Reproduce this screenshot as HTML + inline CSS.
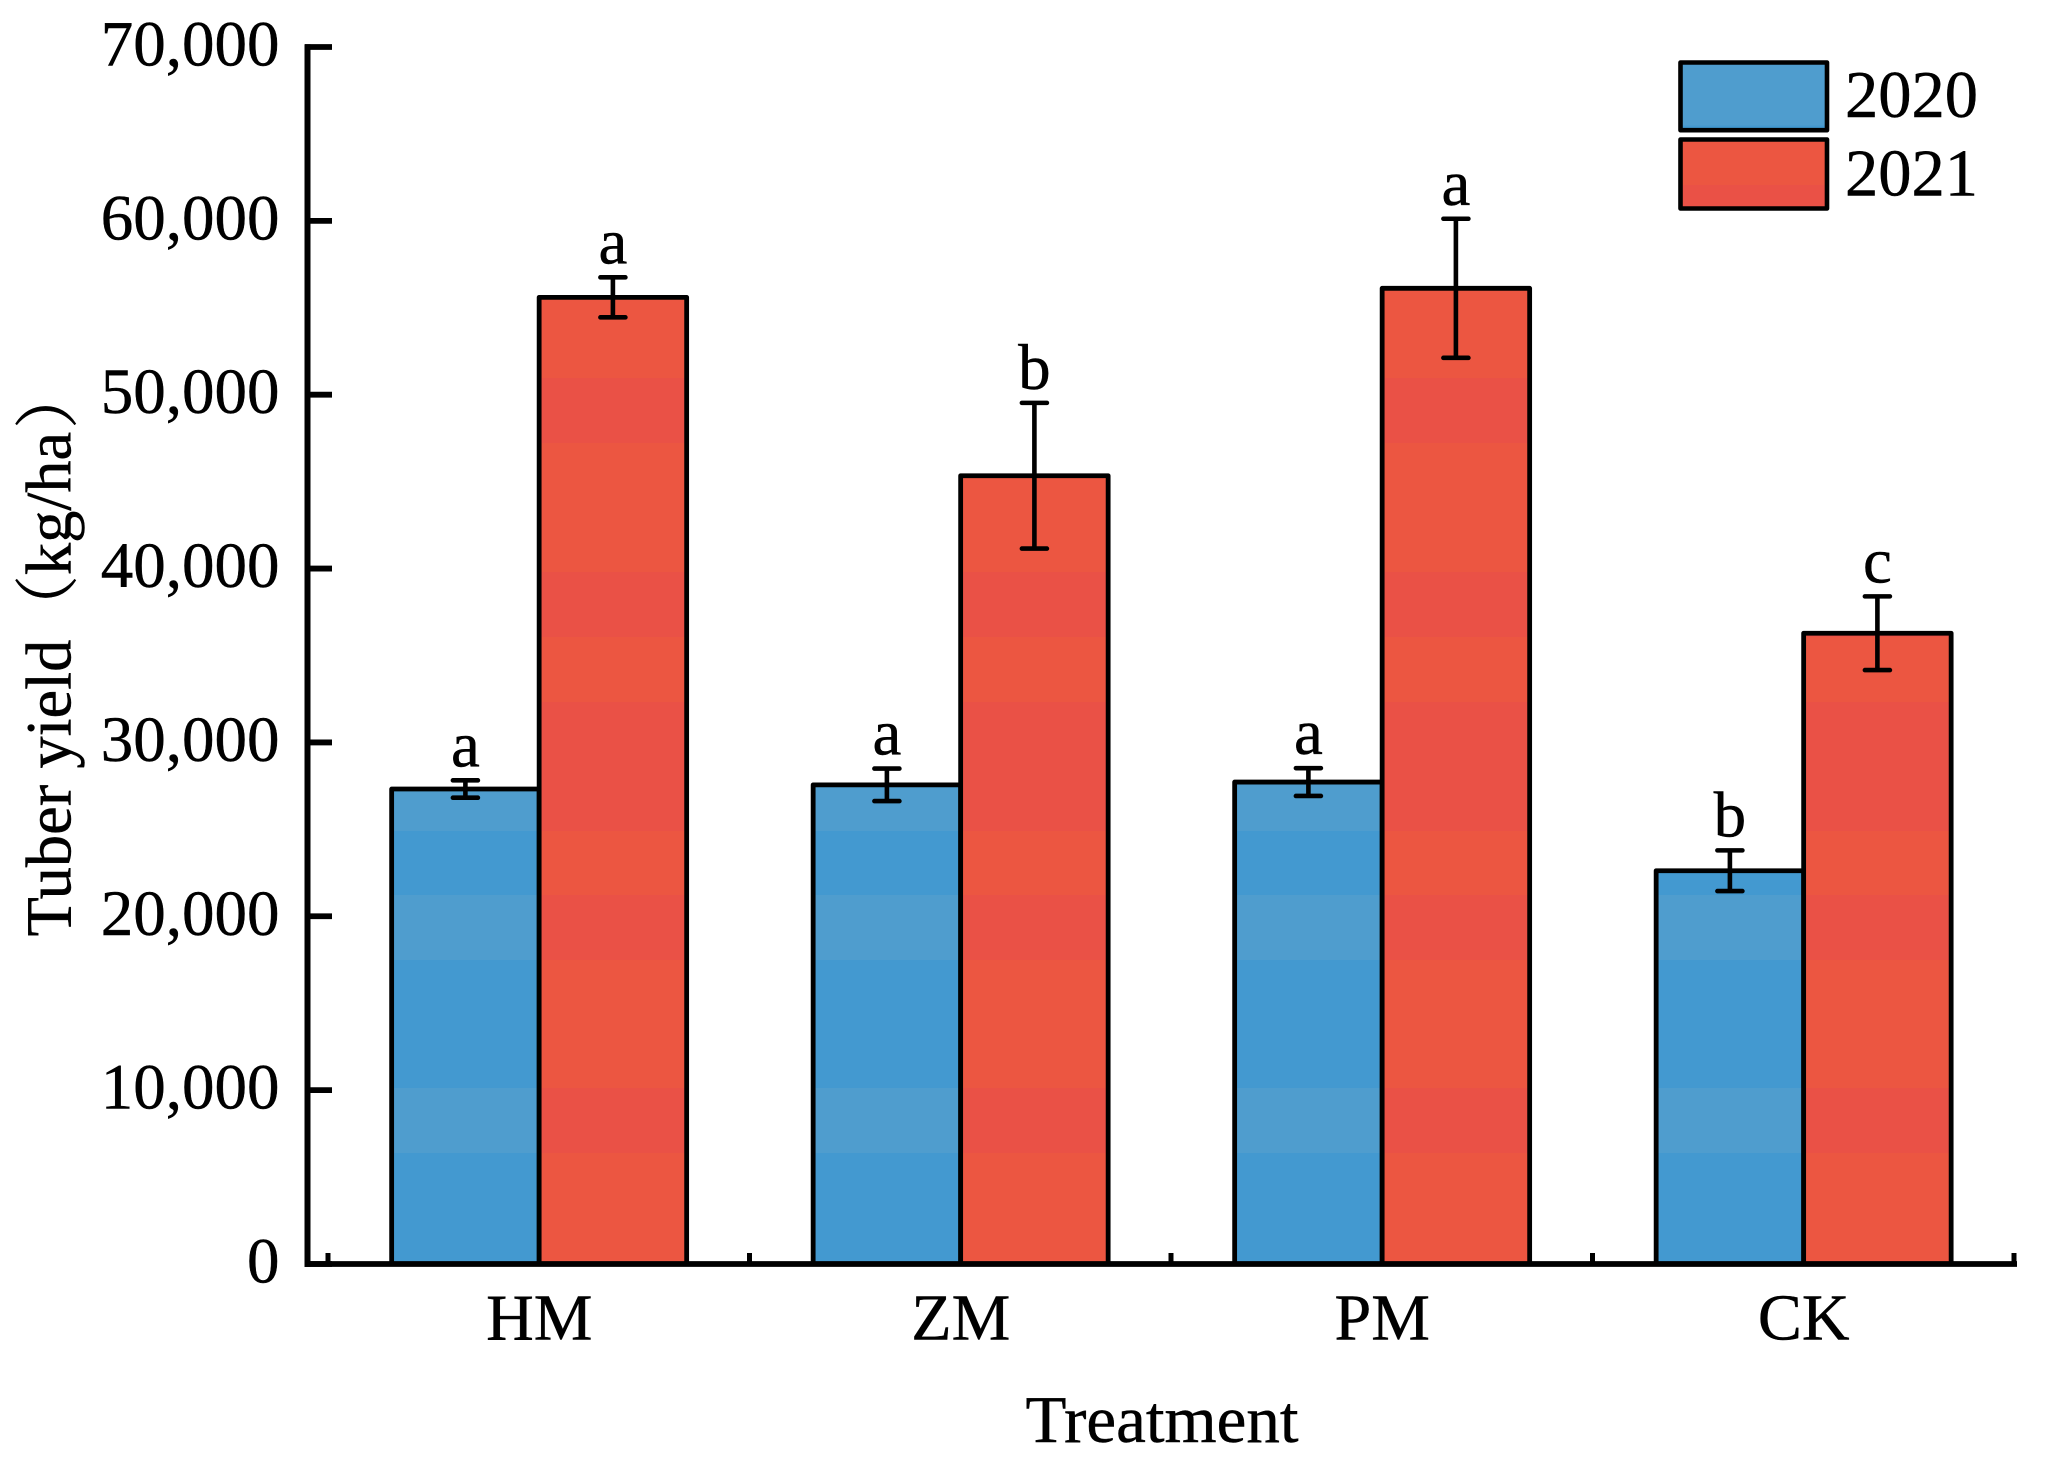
<!DOCTYPE html>
<html lang="en">
<head>
<meta charset="utf-8">
<title>Tuber yield by treatment</title>
<style>
html,body{margin:0;padding:0;background:#fff;}
svg{display:block;}
text{font-family:"Liberation Serif","Noto Serif CJK SC",serif;fill:#000;stroke:#000;stroke-width:0.45px;}
</style>
</head>
<body>
<svg id="chart" xmlns="http://www.w3.org/2000/svg" width="2050" height="1465" viewBox="0 0 2050 1465">
  <defs>
    <linearGradient id="blue-fill" gradientUnits="userSpaceOnUse" x1="0" y1="0" x2="0" y2="1465">
      <stop offset="0" stop-color="#4399d0"/>
      <stop offset="0.4792" stop-color="#4399d0"/><stop offset="0.4792" stop-color="#4f9dce"/>
      <stop offset="0.5672" stop-color="#4f9dce"/><stop offset="0.5672" stop-color="#4399d0"/>
      <stop offset="0.6109" stop-color="#4399d0"/><stop offset="0.6109" stop-color="#4f9dce"/>
      <stop offset="0.6553" stop-color="#4f9dce"/><stop offset="0.6553" stop-color="#4399d0"/>
      <stop offset="0.7427" stop-color="#4399d0"/><stop offset="0.7427" stop-color="#4f9dce"/>
      <stop offset="0.7870" stop-color="#4f9dce"/><stop offset="0.7870" stop-color="#4399d0"/>
      <stop offset="1" stop-color="#4399d0"/>
    </linearGradient>
    <linearGradient id="red-fill" gradientUnits="userSpaceOnUse" x1="0" y1="0" x2="0" y2="1465">
      <stop offset="0" stop-color="#ec5641"/>
      <stop offset="0.2580" stop-color="#ec5641"/><stop offset="0.2580" stop-color="#ea5146"/>
      <stop offset="0.3024" stop-color="#ea5146"/><stop offset="0.3024" stop-color="#ec5641"/>
      <stop offset="0.3904" stop-color="#ec5641"/><stop offset="0.3904" stop-color="#ea5146"/>
      <stop offset="0.4348" stop-color="#ea5146"/><stop offset="0.4348" stop-color="#ec5641"/>
      <stop offset="0.4792" stop-color="#ec5641"/><stop offset="0.4792" stop-color="#ea5146"/>
      <stop offset="0.5672" stop-color="#ea5146"/><stop offset="0.5672" stop-color="#ec5641"/>
      <stop offset="0.6109" stop-color="#ec5641"/><stop offset="0.6109" stop-color="#ea5146"/>
      <stop offset="0.6553" stop-color="#ea5146"/><stop offset="0.6553" stop-color="#ec5641"/>
      <stop offset="0.7427" stop-color="#ec5641"/><stop offset="0.7427" stop-color="#ea5146"/>
      <stop offset="0.7870" stop-color="#ea5146"/><stop offset="0.7870" stop-color="#ec5641"/>
      <stop offset="1" stop-color="#ec5641"/>
    </linearGradient>
    <linearGradient id="legend-blue-fill" gradientUnits="userSpaceOnUse" x1="0" y1="62" x2="0" y2="131">
      <stop offset="0" stop-color="#4f9dce"/><stop offset="0.92" stop-color="#4f9dce"/><stop offset="0.92" stop-color="#4399d0"/><stop offset="1" stop-color="#4399d0"/>
    </linearGradient>
    <linearGradient id="legend-red-fill" gradientUnits="userSpaceOnUse" x1="0" y1="139" x2="0" y2="209">
      <stop offset="0" stop-color="#ec5641"/><stop offset="0.66" stop-color="#ec5641"/><stop offset="0.66" stop-color="#ea5146"/><stop offset="1" stop-color="#ea5146"/>
    </linearGradient>
  </defs>

  <g id="bars"></g>
  <g id="errors"></g>
  <g id="letters"></g>
  <g id="axes"></g>

  <text x="1162" y="1442" font-size="67" text-anchor="middle">Treatment</text>
  <text transform="translate(70.5 936.5) rotate(-90)" font-size="64.5">Tuber yield（kg/ha<tspan dx="3">）</tspan></text>

  <g>
    <rect x="1680.5" y="62.5" width="146.5" height="67.7" fill="url(#legend-blue-fill)" stroke="#000" stroke-width="4.6" stroke-linejoin="round"/>
    <text x="1845" y="117" font-size="66.5">2020</text>
    <rect x="1680.5" y="139.5" width="146.5" height="69" fill="url(#legend-red-fill)" stroke="#000" stroke-width="4.6" stroke-linejoin="round"/>
    <text x="1845" y="195.5" font-size="66.5">2021</text>
  </g>
</svg>

<script>
const categories = ['HM', 'ZM', 'PM', 'CK'];
const yield2020 = [27320, 27560, 27720, 22620];
const yield2021 = [55600, 45340, 56120, 36280];
const error2020 = [500, 935, 800, 1170];
const error2021 = [1150, 4190, 4000, 2120];
const letters2020 = ['a', 'a', 'a', 'b'];
const letters2021 = ['a', 'b', 'a', 'c'];
const yTickValues = [0, 10000, 20000, 30000, 40000, 50000, 60000, 70000];
const yTickLabels = ['0', '10,000', '20,000', '30,000', '40,000', '50,000', '60,000', '70,000'];

const SVG_NS = 'http://www.w3.org/2000/svg';
const plotLeft = 328;
const bandWidth = 421.5;
const barWidth = 147.5;
const baselineY = 1264;
const pxPerUnit = 173.86 / 10000;

function xBand(i) { return plotLeft + bandWidth * i; }
function xCenter(i) { return xBand(i) + bandWidth / 2; }
function yScale(v) { return baselineY - v * pxPerUnit; }

function make(tag, parent, attrs, content) {
  const el = document.createElementNS(SVG_NS, tag);
  for (const k in attrs) el.setAttribute(k, attrs[k]);
  if (content !== undefined) el.textContent = content;
  parent.appendChild(el);
  return el;
}

const barsG = document.getElementById('bars');
const errorsG = document.getElementById('errors');
const lettersG = document.getElementById('letters');
const axesG = document.getElementById('axes');

function drawSeries(values, errors, letters, fill, offset, year) {
  categories.forEach(function (cat, i) {
    const x0 = xCenter(i) + offset;
    const top = yScale(values[i]);
    const bar = make('rect', barsG, {
      x: x0 + 0.4, y: top, width: barWidth, height: baselineY - top,
      fill: fill, stroke: '#000', 'stroke-width': 4.8, 'stroke-linejoin': 'round'
    });
    
    

    const cx = x0 + barWidth / 2 + 0.4;
    const hi = yScale(values[i] + errors[i]);
    const lo = yScale(values[i] - errors[i]);
    const d = 'M' + cx + ' ' + hi + 'V' + lo +
              'M' + (cx - 12.5) + ' ' + hi + 'H' + (cx + 12.5) +
              'M' + (cx - 12.5) + ' ' + lo + 'H' + (cx + 12.5);
    const err = make('path', errorsG, {
      d: d, fill: 'none', stroke: '#000', 'stroke-width': 4.6, 'stroke-linecap': 'round'
    });
    
    

    const label = make('text', lettersG, {
      x: cx, y: hi - 14, 'font-size': 65, 'text-anchor': 'middle'
    }, letters[i]);
    
    
  });
}

drawSeries(yield2020, error2020, letters2020, 'url(#blue-fill)', -barWidth, '2020');
drawSeries(yield2021, error2021, letters2021, 'url(#red-fill)', 0, '2021');

const yAxisLine = make('line', axesG, {
  x1: 307.5, y1: 44.2, x2: 307.5, y2: 1266.9, stroke: '#000', 'stroke-width': 6
});



const xAxisLine = make('line', axesG, {
  x1: 304.5, y1: baselineY, x2: 2017, y2: baselineY, stroke: '#000', 'stroke-width': 5.8
});



yTickValues.forEach(function (v, i) {
  const y = yScale(v);
  const tick = make('line', axesG, {
    x1: 305, y1: y, x2: 332, y2: y, stroke: '#000', 'stroke-width': 5.8
  });
  
  
  const label = make('text', axesG, {
    x: 279.5, y: y + 18.5, 'font-size': 65, 'text-anchor': 'end'
  }, yTickLabels[i]);
  
  
});

for (let i = 0; i <= categories.length; i++) {
  const x = xBand(i);
  const tick = make('line', axesG, {
    x1: x, y1: 1253, x2: x, y2: baselineY, stroke: '#000', 'stroke-width': 5
  });
  
  
}

categories.forEach(function (cat, i) {
  const label = make('text', axesG, {
    x: xCenter(i) + 0.5, y: 1339.5, 'font-size': 66, 'text-anchor': 'middle'
  }, cat);
  
  
});
</script>
</body>
</html>
